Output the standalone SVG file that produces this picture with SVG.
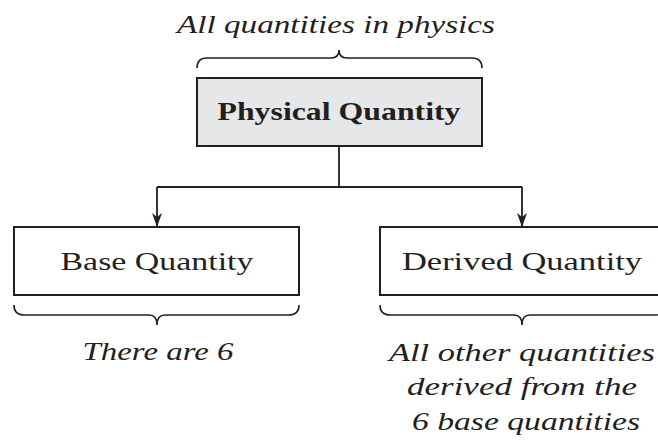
<svg xmlns="http://www.w3.org/2000/svg" width="658" height="443" viewBox="0 0 658 443">
<style>
.box{fill:#fff;stroke:#231f20;stroke-width:2}
.lbl{font-family:'Liberation Serif','Times New Roman',Tinos,serif;font-size:25px;fill:#231f20;text-anchor:middle}
.it{font-family:'Liberation Serif','Times New Roman',Tinos,serif;font-size:25px;font-style:italic;fill:#231f20;text-anchor:middle}
.brace{fill:none;stroke:#231f20;stroke-width:1.6}
.conn{fill:none;stroke:#231f20;stroke-width:1.8}
</style>
<defs>
<marker id="ah" markerWidth="14" markerHeight="10" refX="14" refY="5" orient="auto" markerUnits="userSpaceOnUse" viewBox="0 0 14 10">
<path d="M0,0 L14,5 L0,10 L4,5 Z" fill="#231f20"/>
</marker>
</defs>
<rect width="658" height="443" fill="#fff"/>
<g id="top-note">
<text class="it" x="336" y="33" textLength="318" lengthAdjust="spacingAndGlyphs">All quantities in physics</text>
<path class="brace" d="M197,68 Q197,58 207,58 L331,58 Q339,58 339,50 Q339,58 347,58 L472,58 Q482,58 482,68"/>
</g>
<g id="physical-quantity">
<rect x="197" y="78" width="285" height="68" fill="#e6e7e8" stroke="#231f20" stroke-width="2"/>
<text class="lbl" x="339" y="120" font-weight="bold" textLength="243" lengthAdjust="spacingAndGlyphs">Physical Quantity</text>
</g>
<g id="base-quantity">
<rect class="box" x="14" y="227" width="285" height="68"/>
<text class="lbl" x="157" y="270" textLength="193" lengthAdjust="spacingAndGlyphs">Base Quantity</text>
<path class="brace" d="M14,305 Q14,315 24,315 L149,315 Q157,315 157,325 Q157,315 165,315 L289,315 Q299,315 299,305"/>
<text class="it" x="158" y="360" textLength="151" lengthAdjust="spacingAndGlyphs">There are 6</text>
</g>
<g id="derived-quantity">
<rect class="box" x="380" y="227" width="285" height="68"/>
<text class="lbl" x="522" y="270" textLength="240" lengthAdjust="spacingAndGlyphs">Derived Quantity</text>
<path class="brace" d="M380,305 Q380,315 390,315 L514,315 Q522,315 522,325 Q522,315 530,315 L655,315 Q665,315 665,305"/>
<text class="it" x="522" y="361" textLength="266" lengthAdjust="spacingAndGlyphs">All other quantities</text>
<text class="it" x="522" y="395" textLength="230" lengthAdjust="spacingAndGlyphs">derived from the</text>
<text class="it" x="526" y="430" textLength="228" lengthAdjust="spacingAndGlyphs">6 base quantities</text>
</g>
<g id="connectors">
<path class="conn" d="M339,146 L339,187"/>
<path class="conn" d="M157,187 L522,187"/>
<path class="conn" d="M157,187 L157,227" marker-end="url(#ah)"/>
<path class="conn" d="M522,187 L522,227" marker-end="url(#ah)"/>
</g>
</svg>
